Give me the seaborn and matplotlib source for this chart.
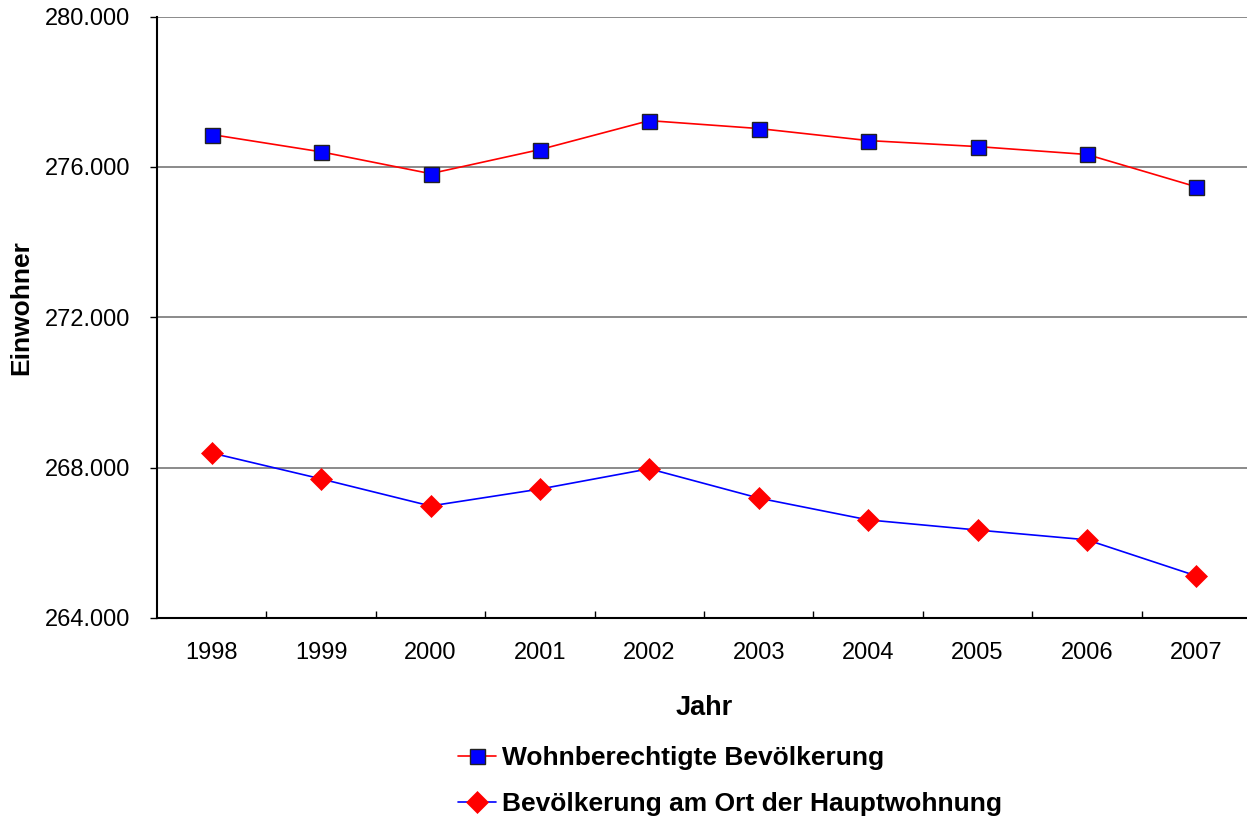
import matplotlib
matplotlib.use("Agg")
import matplotlib.pyplot as plt
import seaborn as sns
import pandas as pd
from matplotlib.ticker import FuncFormatter, FixedLocator
from matplotlib.lines import Line2D

# ---- data ----
years = [1998, 1999, 2000, 2001, 2002, 2003, 2004, 2005, 2006, 2007]
wohnberechtigt = [276860, 276400, 275820, 276460, 277230, 277020, 276700, 276540, 276330, 275470]
hauptwohnung = [268390, 267700, 266980, 267430, 267970, 267190, 266610, 266340, 266080, 265120]
label_wb = "Wohnberechtigte Bevölkerung"
label_hw = "Bevölkerung am Ort der Hauptwohnung"
y_ticks = [264000, 268000, 272000, 276000, 280000]

sns.set_theme(style="white")
plt.rcParams["font.family"] = ["Liberation Sans", "DejaVu Sans"]
plt.rcParams["text.color"] = "black"

W, H = 1247, 825
fig = plt.figure(figsize=(W / 100, H / 100), dpi=100)
left, right, top, bottom = 157, 1251, 16.5, 618
ax = fig.add_axes([left / W, (H - bottom) / H, (right - left) / W, (bottom - top) / H])

df = pd.DataFrame({"Jahr": years, label_wb: wohnberechtigt, label_hw: hauptwohnung})

sq = dict(marker="s", markersize=10.8, markerfacecolor="#0000ff",
          markeredgecolor="#222222", markeredgewidth=1.0)
dm = dict(marker="D", markersize=11.3, markerfacecolor="#ff0000",
          markeredgecolor="#ff0000", markeredgewidth=0.5)

sns.lineplot(data=df, x="Jahr", y=label_wb, ax=ax, color="#ff0000", lw=1.2, zorder=3, **sq)
sns.lineplot(data=df, x="Jahr", y=label_hw, ax=ax, color="#0000ff", lw=1.2, zorder=3, **dm)

ax.set_xlim(years[0] - 0.5, years[-1] + 0.5)
ax.set_ylim(264000, 280000)
ax.set_yticks(y_ticks)
ax.yaxis.set_major_formatter(FuncFormatter(lambda v, p: f"{v:,.0f}".replace(",", ".")))
ax.grid(axis="y", color="#777777", lw=1.2)
ax.grid(axis="x", visible=False)

ax.set_xticks(years)
ax.set_xticklabels([str(y) for y in years])
ax.xaxis.set_minor_locator(FixedLocator([y + 0.5 for y in years[:-1]]))
ax.tick_params(axis="x", which="major", length=0, pad=17, labelsize=17, labelcolor="black")
ax.tick_params(axis="x", which="minor", direction="in", length=5, width=1, color="black", bottom=True)
ax.tick_params(axis="y", which="major", direction="out", length=5, width=1, color="black",
               left=True, pad=14, labelsize=17, labelcolor="black")

for s in ["top", "right"]:
    ax.spines[s].set_visible(False)
for s in ["left", "bottom"]:
    ax.spines[s].set_visible(True)
    ax.spines[s].set_color("black")
    ax.spines[s].set_linewidth(1.5)

ax.set_xlabel("Jahr", fontsize=19.5, fontweight="bold", color="black")
ax.xaxis.set_label_coords(0.5, (bottom - 695) / (bottom - top))
ax.set_ylabel("")
fig.text(9 / W, 1 - 308 / H, "Einwohner", rotation=90, ha="left", va="center",
         fontsize=19, fontweight="bold", color="black")

handles = [
    Line2D([], [], color="#ff0000", lw=1.2, **sq),
    Line2D([], [], color="#0000ff", lw=1.2, **dm),
]
fig.legend(handles, [label_wb, label_hw], loc="upper left",
           bbox_to_anchor=(458 / W, 1 - 746 / H), frameon=False,
           prop={"weight": "bold", "size": 19}, handlelength=1.45,
           handletextpad=0.2, labelspacing=0.84, borderpad=0, borderaxespad=0)

fig.savefig("out.png", dpi=100)
